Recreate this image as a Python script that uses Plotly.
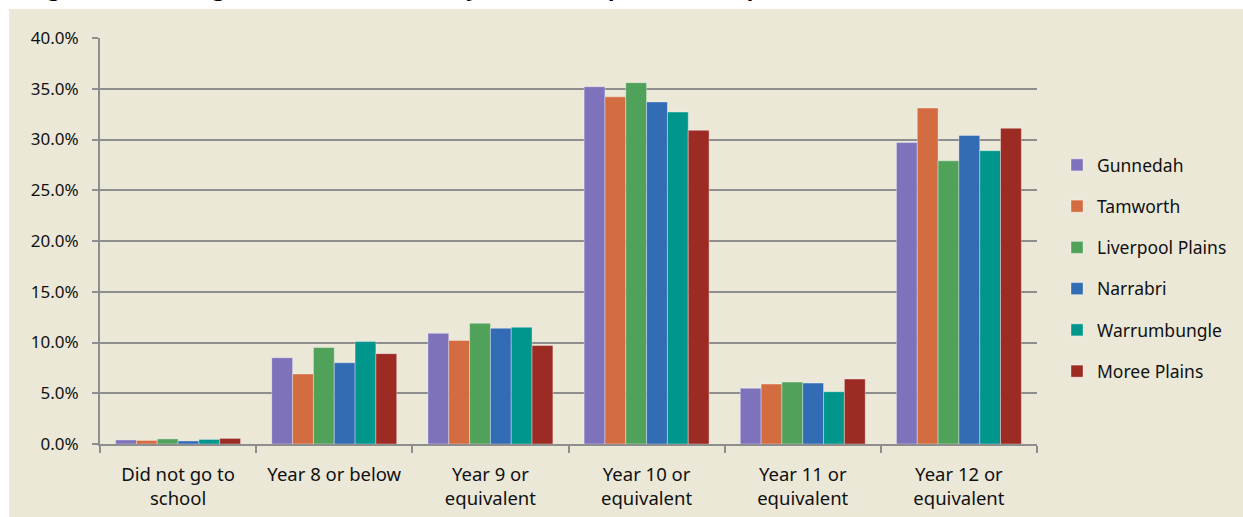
import plotly.graph_objects as go

# Highest level of secondary school completed, share of population (%)
categories = [
    "Did not go to<br>school",
    "Year 8 or below",
    "Year 9 or<br>equivalent",
    "Year 10 or<br>equivalent",
    "Year 11 or<br>equivalent",
    "Year 12 or<br>equivalent",
]

gunnedah = [0.4, 8.5, 10.9, 35.2, 5.5, 29.7]
tamworth = [0.35, 6.9, 10.2, 34.2, 5.9, 33.1]
liverpool_plains = [0.5, 9.5, 11.9, 35.6, 6.1, 27.9]
narrabri = [0.3, 8.0, 11.4, 33.7, 6.0, 30.4]
warrumbungle = [0.45, 10.1, 11.5, 32.7, 5.15, 28.9]
moree_plains = [0.55, 8.9, 9.7, 30.9, 6.4, 31.1]

series = [
    ("Gunnedah", gunnedah, "#7F72BD"),
    ("Tamworth", tamworth, "#D36C41"),
    ("Liverpool Plains", liverpool_plains, "#50A25A"),
    ("Narrabri", narrabri, "#326CB4"),
    ("Warrumbungle", warrumbungle, "#00968C"),
    ("Moree Plains", moree_plains, "#9C2B24"),
]

y_ticks = [0, 5, 10, 15, 20, 25, 30, 35, 40]

BG = "#EBE8D8"
GRID = "#8E8E8E"
FONT = "Noto Sans"

# pixel geometry of the plot area
L, R, T, B = 100, 1038, 38, 444
PW, PH = R - L, B - T


def px_x(x):
    return (x - L) / PW


def px_y(y):
    return (B - y) / PH


fig = go.Figure()
for i, (name, vals, color) in enumerate(series):
    fig.add_trace(go.Bar(
        name=name,
        x=categories,
        y=vals,
        marker=dict(color=color, line=dict(color="rgba(255,255,255,0.35)", width=1)),
        legendgroup=f"g{i}",
    ))

# beige chart panel below a thin white border
fig.add_shape(
    type="rect", xref="paper", yref="paper",
    x0=px_x(9), x1=1.3, y0=-0.3, y1=px_y(9),
    fillcolor=BG, line=dict(width=0), layer="below",
)

title_font = dict(family=FONT, size=21.5, color="#000000")
fig.add_annotation(
    text="<b>Figure 7.2</b>",
    xref="paper", yref="paper", x=px_x(27), y=px_y(4),
    xanchor="left", yanchor="bottom", showarrow=False, font=title_font,
)
fig.add_annotation(
    text="<b>Highest Level of Secondary School Completed – Comparative LGAs, 2011</b>",
    xref="paper", yref="paper", x=px_x(187), y=px_y(4),
    xanchor="left", yanchor="bottom", showarrow=False, font=title_font,
)

fig.update_layout(
    width=1243, height=517,
    margin=dict(l=L, r=1243 - R, t=T, b=517 - B),
    paper_bgcolor="#FFFFFF",
    plot_bgcolor=BG,
    barmode="group",
    bargap=0.2,
    bargroupgap=0,
    font=dict(family=FONT, size=17, color="#111111"),
    legend=dict(
        x=px_x(1057), xanchor="left",
        y=px_y(147), yanchor="top",
        bgcolor="rgba(0,0,0,0)",
        font=dict(family=FONT, size=17.5, color="#111111"),
        tracegroupgap=15.5,
    ),
    xaxis=dict(
        automargin=False,
        showline=True, linecolor=GRID, linewidth=2,
        ticks="outside", tickson="boundaries", ticklen=7, tickwidth=2, tickcolor=GRID,
        showgrid=False,
        ticklabelstandoff=13,
        tickfont=dict(family=FONT, size=18.5, color="#111111"),
    ),
    yaxis=dict(
        automargin=False,
        range=[0, 40], tickvals=y_ticks,
        ticktext=[f"{v:.1f}%" for v in y_ticks],
        showline=True, linecolor=GRID, linewidth=2,
        showgrid=True, gridcolor=GRID, gridwidth=2,
        zeroline=False,
        ticks="outside", ticklen=6, tickwidth=2, tickcolor=GRID,
        ticklabelstandoff=10,
        tickfont=dict(family=FONT, size=17, color="#111111"),
    ),
)

fig.write_html("out.html")
